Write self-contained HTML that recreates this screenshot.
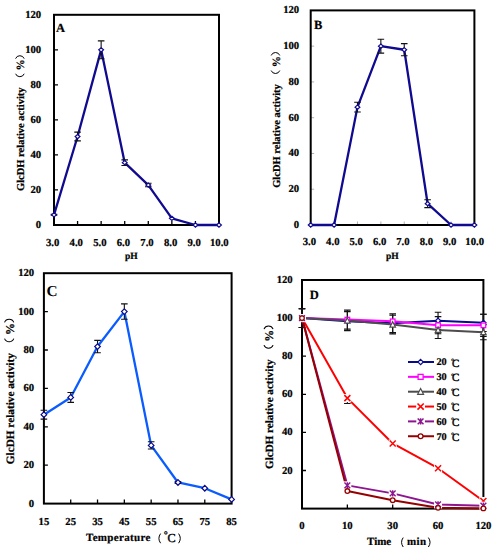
<!DOCTYPE html><html><head><meta charset="utf-8"><style>html,body{margin:0;padding:0;background:#fff;}svg{display:block}</style></head><body>
<svg width="496" height="550" viewBox="0 0 496 550" font-family="Liberation Serif" font-weight="bold" text-rendering="geometricPrecision">
<style>text{stroke:#000;stroke-width:0.22px;paint-order:stroke}</style>
<rect width="496" height="550" fill="#fff"/>
<path d="M54 189.97h4M54 154.93h4M54 119.9h4M54 84.87h4M54 49.83h4M77.57 225v-4M101.14 225v-4M124.71 225v-4M148.29 225v-4M171.86 225v-4M195.43 225v-4" stroke="#000" stroke-width="1.3" fill="none"/>
<rect x="54" y="14.8" width="165" height="210.2" fill="none" stroke="#000" stroke-width="2"/>
<text x="41.2" y="228" font-size="10.7" text-anchor="end" >0</text>
<text x="41.2" y="192.97" font-size="10.7" text-anchor="end" >20</text>
<text x="41.2" y="157.93" font-size="10.7" text-anchor="end" >40</text>
<text x="41.2" y="122.9" font-size="10.7" text-anchor="end" >60</text>
<text x="41.2" y="87.87" font-size="10.7" text-anchor="end" >80</text>
<text x="41.2" y="52.83" font-size="10.7" text-anchor="end" >100</text>
<text x="41.2" y="17.8" font-size="10.7" text-anchor="end" >120</text>
<text x="52.7" y="245.6" font-size="10.7" text-anchor="middle" >3.0</text>
<text x="76.27" y="245.6" font-size="10.7" text-anchor="middle" >4.0</text>
<text x="99.84" y="245.6" font-size="10.7" text-anchor="middle" >5.0</text>
<text x="123.41" y="245.6" font-size="10.7" text-anchor="middle" >6.0</text>
<text x="146.99" y="245.6" font-size="10.7" text-anchor="middle" >7.0</text>
<text x="170.56" y="245.6" font-size="10.7" text-anchor="middle" >8.0</text>
<text x="194.13" y="245.6" font-size="10.7" text-anchor="middle" >9.0</text>
<text x="219.3" y="245.6" font-size="10.7" text-anchor="middle" >10.0</text>
<text x="56" y="32" font-size="12.5" text-anchor="start" >A</text>
<polyline points="54,214.84 77.57,136.54 101.14,49.83 124.71,162.64 148.29,185.06 171.86,218.34 195.43,225 219,225" fill="none" stroke="#100a90" stroke-width="2.3" stroke-linejoin="round"/>
<path d="M54 214.4V215.28M50.7 214.4H57.3M50.7 215.28H57.3" stroke="#111" stroke-width="1.1" fill="none"/>
<path d="M77.57 132.16V140.92M74.27 132.16H80.87M74.27 140.92H80.87" stroke="#111" stroke-width="1.1" fill="none"/>
<path d="M101.14 40.9V58.77M97.84 40.9H104.44M97.84 58.77H104.44" stroke="#111" stroke-width="1.1" fill="none"/>
<path d="M124.71 159.84V165.44M121.41 159.84H128.01M121.41 165.44H128.01" stroke="#111" stroke-width="1.1" fill="none"/>
<path d="M148.29 183.31V186.81M144.99 183.31H151.59M144.99 186.81H151.59" stroke="#111" stroke-width="1.1" fill="none"/>
<path d="M54 212.74L56.4 214.84L54 216.94L51.6 214.84Z" fill="#fff" stroke="#100a90" stroke-width="1.2"/>
<path d="M77.57 134.44L79.97 136.54L77.57 138.64L75.17 136.54Z" fill="#fff" stroke="#100a90" stroke-width="1.2"/>
<path d="M101.14 47.73L103.54 49.83L101.14 51.93L98.74 49.83Z" fill="#fff" stroke="#100a90" stroke-width="1.2"/>
<path d="M124.71 160.54L127.11 162.64L124.71 164.74L122.31 162.64Z" fill="#fff" stroke="#100a90" stroke-width="1.2"/>
<path d="M148.29 182.96L150.69 185.06L148.29 187.16L145.89 185.06Z" fill="#fff" stroke="#100a90" stroke-width="1.2"/>
<path d="M171.86 216.24L174.26 218.34L171.86 220.44L169.46 218.34Z" fill="#fff" stroke="#100a90" stroke-width="1.2"/>
<path d="M195.43 222.9L197.83 225L195.43 227.1L193.03 225Z" fill="#fff" stroke="#100a90" stroke-width="1.2"/>
<path d="M219 222.9L221.4 225L219 227.1L216.6 225Z" fill="#fff" stroke="#100a90" stroke-width="1.2"/>
<text x="131.3" y="259.4" font-size="9.5" text-anchor="middle" >pH</text>
<g transform="translate(24.4 191) rotate(-90)">
<text x="0" y="0" font-size="10.5">GlcDH relative activity</text>
<path d="M117.23 -8.82A4.62 4.62 0 0 0 117.23 -0.21" fill="none" stroke="#000" stroke-width="1"/>
<text x="120.49" y="0" font-size="11.13">%</text>
<path d="M132.35 -8.82A4.62 4.62 0 0 1 132.35 -0.21" fill="none" stroke="#000" stroke-width="1"/>
</g>
<path d="M310.7 189.23h3.5M310.7 153.47h3.5M310.7 117.7h3.5M310.7 81.93h3.5M310.7 46.17h3.5M334.09 225v-3.5M357.47 225v-3.5M380.86 225v-3.5M404.24 225v-3.5M427.63 225v-3.5M451.01 225v-3.5" stroke="#a8a8a8" stroke-width="0.9" fill="none"/>
<rect x="310.7" y="10.4" width="163.7" height="214.6" fill="none" stroke="#000" stroke-width="2"/>
<text x="299.2" y="228" font-size="10.7" text-anchor="end" >0</text>
<text x="299.2" y="192.23" font-size="10.7" text-anchor="end" >20</text>
<text x="299.2" y="156.47" font-size="10.7" text-anchor="end" >40</text>
<text x="299.2" y="120.7" font-size="10.7" text-anchor="end" >60</text>
<text x="299.2" y="84.93" font-size="10.7" text-anchor="end" >80</text>
<text x="299.2" y="49.17" font-size="10.7" text-anchor="end" >100</text>
<text x="299.2" y="13.4" font-size="10.7" text-anchor="end" >120</text>
<text x="309.4" y="245.3" font-size="10.7" text-anchor="middle" >3.0</text>
<text x="332.79" y="245.3" font-size="10.7" text-anchor="middle" >4.0</text>
<text x="356.17" y="245.3" font-size="10.7" text-anchor="middle" >5.0</text>
<text x="379.56" y="245.3" font-size="10.7" text-anchor="middle" >6.0</text>
<text x="402.94" y="245.3" font-size="10.7" text-anchor="middle" >7.0</text>
<text x="426.33" y="245.3" font-size="10.7" text-anchor="middle" >8.0</text>
<text x="449.71" y="245.3" font-size="10.7" text-anchor="middle" >9.0</text>
<text x="474.7" y="245.3" font-size="10.7" text-anchor="middle" >10.0</text>
<text x="313.9" y="29" font-size="12.5" text-anchor="start" >B</text>
<polyline points="310.7,225 334.09,225 357.47,107.15 380.86,46.17 404.24,49.74 427.63,203.72 451.01,225 474.4,225" fill="none" stroke="#100a90" stroke-width="2.3" stroke-linejoin="round"/>
<path d="M357.47 102.32V111.98M354.17 102.32H360.77M354.17 111.98H360.77" stroke="#111" stroke-width="1.1" fill="none"/>
<path d="M380.86 39.19V53.14M377.56 39.19H384.16M377.56 53.14H384.16" stroke="#111" stroke-width="1.1" fill="none"/>
<path d="M404.24 43.66V55.82M400.94 43.66H407.54M400.94 55.82H407.54" stroke="#111" stroke-width="1.1" fill="none"/>
<path d="M427.63 199.78V207.65M424.33 199.78H430.93M424.33 207.65H430.93" stroke="#111" stroke-width="1.1" fill="none"/>
<path d="M310.7 222.9L313.1 225L310.7 227.1L308.3 225Z" fill="#fff" stroke="#100a90" stroke-width="1.2"/>
<path d="M334.09 222.9L336.49 225L334.09 227.1L331.69 225Z" fill="#fff" stroke="#100a90" stroke-width="1.2"/>
<path d="M357.47 105.05L359.87 107.15L357.47 109.25L355.07 107.15Z" fill="#fff" stroke="#100a90" stroke-width="1.2"/>
<path d="M380.86 44.07L383.26 46.17L380.86 48.27L378.46 46.17Z" fill="#fff" stroke="#100a90" stroke-width="1.2"/>
<path d="M404.24 47.64L406.64 49.74L404.24 51.84L401.84 49.74Z" fill="#fff" stroke="#100a90" stroke-width="1.2"/>
<path d="M427.63 201.62L430.03 203.72L427.63 205.82L425.23 203.72Z" fill="#fff" stroke="#100a90" stroke-width="1.2"/>
<path d="M451.01 222.9L453.41 225L451.01 227.1L448.61 225Z" fill="#fff" stroke="#100a90" stroke-width="1.2"/>
<path d="M474.4 222.9L476.8 225L474.4 227.1L472 225Z" fill="#fff" stroke="#100a90" stroke-width="1.2"/>
<text x="392.3" y="259.4" font-size="9.5" text-anchor="middle" >pH</text>
<g transform="translate(280 187.8) rotate(-90)">
<text x="0" y="0" font-size="10.5">GlcDH relative activity</text>
<path d="M117.23 -8.82A4.62 4.62 0 0 0 117.23 -0.21" fill="none" stroke="#000" stroke-width="1"/>
<text x="120.49" y="0" font-size="11.13">%</text>
<path d="M132.35 -8.82A4.62 4.62 0 0 1 132.35 -0.21" fill="none" stroke="#000" stroke-width="1"/>
</g>
<path d="M43.9 465.2h4M43.9 426.8h4M43.9 388.4h4M43.9 350h4M43.9 311.6h4M70.71 503.6v-4M97.53 503.6v-4M124.34 503.6v-4M151.16 503.6v-4M177.97 503.6v-4M204.79 503.6v-4" stroke="#000" stroke-width="1.3" fill="none"/>
<rect x="43.9" y="273.2" width="187.7" height="230.4" fill="none" stroke="#000" stroke-width="2"/>
<text x="34.2" y="506.6" font-size="10.7" text-anchor="end" >0</text>
<text x="34.2" y="468.2" font-size="10.7" text-anchor="end" >20</text>
<text x="34.2" y="429.8" font-size="10.7" text-anchor="end" >40</text>
<text x="34.2" y="391.4" font-size="10.7" text-anchor="end" >60</text>
<text x="34.2" y="353" font-size="10.7" text-anchor="end" >80</text>
<text x="34.2" y="314.6" font-size="10.7" text-anchor="end" >100</text>
<text x="34.2" y="276.2" font-size="10.7" text-anchor="end" >120</text>
<text x="43.9" y="525" font-size="10.7" text-anchor="middle" >15</text>
<text x="70.71" y="525" font-size="10.7" text-anchor="middle" >25</text>
<text x="97.53" y="525" font-size="10.7" text-anchor="middle" >35</text>
<text x="124.34" y="525" font-size="10.7" text-anchor="middle" >45</text>
<text x="151.16" y="525" font-size="10.7" text-anchor="middle" >55</text>
<text x="177.97" y="525" font-size="10.7" text-anchor="middle" >65</text>
<text x="204.79" y="525" font-size="10.7" text-anchor="middle" >75</text>
<text x="231.6" y="525" font-size="10.7" text-anchor="middle" >85</text>
<text x="46.6" y="295.9" font-size="15.3" text-anchor="start" style="stroke-width:0">C</text>
<polyline points="43.9,414.7 70.71,397.42 97.53,346.54 124.34,311.6 151.16,445.42 177.97,482.48 204.79,488.24 231.6,499.38" fill="none" stroke="#0a5cff" stroke-width="2.3" stroke-linejoin="round"/>
<path d="M43.9 410.29V419.12M40.6 410.29H47.2M40.6 419.12H47.2" stroke="#111" stroke-width="1.1" fill="none"/>
<path d="M70.71 392.43V402.42M67.41 392.43H74.01M67.41 402.42H74.01" stroke="#111" stroke-width="1.1" fill="none"/>
<path d="M97.53 340.4V352.69M94.23 340.4H100.83M94.23 352.69H100.83" stroke="#111" stroke-width="1.1" fill="none"/>
<path d="M124.34 303.92V319.28M121.04 303.92H127.64M121.04 319.28H127.64" stroke="#111" stroke-width="1.1" fill="none"/>
<path d="M151.16 441.78V449.07M147.86 441.78H154.46M147.86 449.07H154.46" stroke="#111" stroke-width="1.1" fill="none"/>
<path d="M177.97 481.52V483.44M174.67 481.52H181.27M174.67 483.44H181.27" stroke="#111" stroke-width="1.1" fill="none"/>
<path d="M43.9 411.9L46.7 414.7L43.9 417.5L41.1 414.7Z" fill="#fff" stroke="#0a0a8a" stroke-width="1.2"/>
<path d="M70.71 394.62L73.51 397.42L70.71 400.22L67.91 397.42Z" fill="#fff" stroke="#0a0a8a" stroke-width="1.2"/>
<path d="M97.53 343.74L100.33 346.54L97.53 349.34L94.73 346.54Z" fill="#fff" stroke="#0a0a8a" stroke-width="1.2"/>
<path d="M124.34 308.8L127.14 311.6L124.34 314.4L121.54 311.6Z" fill="#fff" stroke="#0a0a8a" stroke-width="1.2"/>
<path d="M151.16 442.62L153.96 445.42L151.16 448.22L148.36 445.42Z" fill="#fff" stroke="#0a0a8a" stroke-width="1.2"/>
<path d="M177.97 479.68L180.77 482.48L177.97 485.28L175.17 482.48Z" fill="#fff" stroke="#0a0a8a" stroke-width="1.2"/>
<path d="M204.79 485.44L207.59 488.24L204.79 491.04L201.99 488.24Z" fill="#fff" stroke="#0a0a8a" stroke-width="1.2"/>
<path d="M231.6 496.58L234.4 499.38L231.6 502.18L228.8 499.38Z" fill="#fff" stroke="#0a0a8a" stroke-width="1.2"/>
<text x="86" y="541" font-size="11" text-anchor="start" letter-spacing="0.33">Temperature</text>
<path d="M160.6 533.6Q157.2 538.4 160.6 543.2" fill="none" stroke="#000" stroke-width="1"/>
<path d="M178.6 533.6Q182 538.4 178.6 543.2" fill="none" stroke="#000" stroke-width="1"/>
<text x="163.8" y="538.4" font-size="10" text-anchor="start" >°</text>
<text x="167.6" y="541.9" font-size="12.2" text-anchor="start" font-weight="normal" style="stroke-width:0.4px">C</text>
<g transform="translate(14 464.2) rotate(-90)">
<text x="0" y="0" font-size="11.25">GlcDH relative activity</text>
<path d="M125.61 -9.45A4.95 4.95 0 0 0 125.61 -0.23" fill="none" stroke="#000" stroke-width="1.07"/>
<text x="129.09" y="0" font-size="11.93">%</text>
<path d="M141.81 -9.45A4.95 4.95 0 0 1 141.81 -0.23" fill="none" stroke="#000" stroke-width="1.07"/>
</g>
<path d="M302 470.5h4M302 432.4h4M302 394.3h4M302 356.2h4M302 318.1h4M347.35 508.6v-4M392.7 508.6v-4M438.05 508.6v-4" stroke="#000" stroke-width="1.3" fill="none"/>
<rect x="302" y="280" width="181.4" height="228.6" fill="none" stroke="#000" stroke-width="2"/>
<text x="292.7" y="473.5" font-size="10.7" text-anchor="end" >20</text>
<text x="292.7" y="435.4" font-size="10.7" text-anchor="end" >40</text>
<text x="292.7" y="397.3" font-size="10.7" text-anchor="end" >60</text>
<text x="292.7" y="359.2" font-size="10.7" text-anchor="end" >80</text>
<text x="292.7" y="321.1" font-size="10.7" text-anchor="end" >100</text>
<text x="292.7" y="283" font-size="10.7" text-anchor="end" >120</text>
<text x="302" y="529.4" font-size="10.7" text-anchor="middle" >0</text>
<text x="347.35" y="529.4" font-size="10.7" text-anchor="middle" >10</text>
<text x="392.7" y="529.4" font-size="10.7" text-anchor="middle" >30</text>
<text x="438.05" y="529.4" font-size="10.7" text-anchor="middle" >60</text>
<text x="483.4" y="529.4" font-size="10.7" text-anchor="middle" >120</text>
<text x="309.8" y="299" font-size="12.5" text-anchor="start" >D</text>
<path d="M302 308.77V327.43M298.7 308.77H305.3M298.7 327.43H305.3" stroke="#111" stroke-width="1.1" fill="none"/>
<path d="M347.35 311.62V330.67M344.05 311.62H350.65M344.05 330.67H350.65" stroke="#111" stroke-width="1.1" fill="none"/>
<path d="M392.7 313.91V332.58M389.4 313.91H396M389.4 332.58H396" stroke="#111" stroke-width="1.1" fill="none"/>
<path d="M438.05 312.19V329.34M434.75 312.19H441.35M434.75 329.34H441.35" stroke="#111" stroke-width="1.1" fill="none"/>
<path d="M483.4 314.29V331.44M480.1 314.29H486.7M480.1 331.44H486.7" stroke="#111" stroke-width="1.1" fill="none"/>
<path d="M302 308.77V327.43M298.7 308.77H305.3M298.7 327.43H305.3" stroke="#111" stroke-width="1.1" fill="none"/>
<path d="M347.35 310.1V329.15M344.05 310.1H350.65M344.05 329.15H350.65" stroke="#111" stroke-width="1.1" fill="none"/>
<path d="M438.05 316.58V333.72M434.75 316.58H441.35M434.75 333.72H441.35" stroke="#111" stroke-width="1.1" fill="none"/>
<path d="M483.4 314.29V336.39M480.1 314.29H486.7M480.1 336.39H486.7" stroke="#111" stroke-width="1.1" fill="none"/>
<path d="M302 308.77V327.43M298.7 308.77H305.3M298.7 327.43H305.3" stroke="#111" stroke-width="1.1" fill="none"/>
<path d="M392.7 315.24V333.91M389.4 315.24H396M389.4 333.91H396" stroke="#111" stroke-width="1.1" fill="none"/>
<path d="M438.05 321.34V338.48M434.75 321.34H441.35M434.75 338.48H441.35" stroke="#111" stroke-width="1.1" fill="none"/>
<path d="M483.4 324.58V339.82M480.1 324.58H486.7M480.1 339.82H486.7" stroke="#111" stroke-width="1.1" fill="none"/>
<path d="M347.35 398.11V403.44M344.05 403.44H350.65" stroke="#111" stroke-width="1.1" fill="none"/>
<polyline points="302,318.1 347.35,321.15 392.7,323.24 438.05,320.77 483.4,322.86" fill="none" stroke="#0a0a8c" stroke-width="2" stroke-linejoin="round"/>
<polyline points="302,318.1 347.35,319.62 392.7,321.34 438.05,325.15 483.4,325.34" fill="none" stroke="#ff00ff" stroke-width="2" stroke-linejoin="round"/>
<polyline points="302,318.1 347.35,320.58 392.7,324.58 438.05,329.91 483.4,332.2" fill="none" stroke="#4d4d4d" stroke-width="2" stroke-linejoin="round"/>
<polyline points="302,318.1 347.35,398.11 392.7,443.45 438.05,468.21 483.4,500.98" fill="none" stroke="#ff0000" stroke-width="2" stroke-linejoin="round"/>
<polyline points="302,318.1 347.35,485.36 392.7,493.36 438.05,504.41 483.4,505.74" fill="none" stroke="#8e1590" stroke-width="2" stroke-linejoin="round"/>
<polyline points="302,318.1 347.35,491.07 392.7,500.22 438.05,507.84 483.4,508.41" fill="none" stroke="#960000" stroke-width="2" stroke-linejoin="round"/>
<path d="M302 315.5L304.6 318.1L302 320.7L299.4 318.1Z" fill="#fff" stroke="#0a0a8c" stroke-width="1.2"/>
<path d="M347.35 318.55L349.95 321.15L347.35 323.75L344.75 321.15Z" fill="#fff" stroke="#0a0a8c" stroke-width="1.2"/>
<path d="M392.7 320.64L395.3 323.24L392.7 325.84L390.1 323.24Z" fill="#fff" stroke="#0a0a8c" stroke-width="1.2"/>
<path d="M438.05 318.17L440.65 320.77L438.05 323.37L435.45 320.77Z" fill="#fff" stroke="#0a0a8c" stroke-width="1.2"/>
<path d="M483.4 320.26L486 322.86L483.4 325.46L480.8 322.86Z" fill="#fff" stroke="#0a0a8c" stroke-width="1.2"/>
<rect x="299.7" y="315.8" width="4.6" height="4.6" fill="#fff" stroke="#ff00ff" stroke-width="1.3"/>
<rect x="345.05" y="317.32" width="4.6" height="4.6" fill="#fff" stroke="#ff00ff" stroke-width="1.3"/>
<rect x="390.4" y="319.04" width="4.6" height="4.6" fill="#fff" stroke="#ff00ff" stroke-width="1.3"/>
<rect x="435.75" y="322.85" width="4.6" height="4.6" fill="#fff" stroke="#ff00ff" stroke-width="1.3"/>
<rect x="481.1" y="323.04" width="4.6" height="4.6" fill="#fff" stroke="#ff00ff" stroke-width="1.3"/>
<path d="M302 315.2L304.75 320.56L299.25 320.56Z" fill="#fff" stroke="#4d4d4d" stroke-width="1.2"/>
<path d="M347.35 317.68L350.11 323.04L344.6 323.04Z" fill="#fff" stroke="#4d4d4d" stroke-width="1.2"/>
<path d="M392.7 321.68L395.45 327.04L389.94 327.04Z" fill="#fff" stroke="#4d4d4d" stroke-width="1.2"/>
<path d="M438.05 327.01L440.8 332.38L435.29 332.38Z" fill="#fff" stroke="#4d4d4d" stroke-width="1.2"/>
<path d="M483.4 329.3L486.15 334.66L480.64 334.66Z" fill="#fff" stroke="#4d4d4d" stroke-width="1.2"/>
<rect x="298" y="314.1" width="8" height="8" fill="#fff"/>
<path d="M299 315.1L305 321.1M305 315.1L299 321.1" stroke="#ff0000" stroke-width="1.5" fill="none"/>
<rect x="343.35" y="394.11" width="8" height="8" fill="#fff"/>
<path d="M344.35 395.11L350.35 401.11M350.35 395.11L344.35 401.11" stroke="#ff0000" stroke-width="1.5" fill="none"/>
<rect x="388.7" y="439.45" width="8" height="8" fill="#fff"/>
<path d="M389.7 440.45L395.7 446.45M395.7 440.45L389.7 446.45" stroke="#ff0000" stroke-width="1.5" fill="none"/>
<rect x="434.05" y="464.21" width="8" height="8" fill="#fff"/>
<path d="M435.05 465.21L441.05 471.21M441.05 465.21L435.05 471.21" stroke="#ff0000" stroke-width="1.5" fill="none"/>
<rect x="479.4" y="496.98" width="8" height="8" fill="#fff"/>
<path d="M480.4 497.98L486.4 503.98M486.4 497.98L480.4 503.98" stroke="#ff0000" stroke-width="1.5" fill="none"/>
<rect x="298" y="314.1" width="8" height="8" fill="#fff"/>
<path d="M299.1 315.2L304.9 321M304.9 315.2L299.1 321M302 314.9V321.3" stroke="#8e1590" stroke-width="1.4" fill="none"/>
<rect x="343.35" y="481.36" width="8" height="8" fill="#fff"/>
<path d="M344.45 482.46L350.25 488.26M350.25 482.46L344.45 488.26M347.35 482.16V488.56" stroke="#8e1590" stroke-width="1.4" fill="none"/>
<rect x="388.7" y="489.36" width="8" height="8" fill="#fff"/>
<path d="M389.8 490.46L395.6 496.26M395.6 490.46L389.8 496.26M392.7 490.16V496.56" stroke="#8e1590" stroke-width="1.4" fill="none"/>
<rect x="434.05" y="500.41" width="8" height="8" fill="#fff"/>
<path d="M435.15 501.51L440.95 507.31M440.95 501.51L435.15 507.31M438.05 501.21V507.61" stroke="#8e1590" stroke-width="1.4" fill="none"/>
<rect x="479.4" y="501.74" width="8" height="8" fill="#fff"/>
<path d="M480.5 502.84L486.3 508.64M486.3 502.84L480.5 508.64M483.4 502.54V508.94" stroke="#8e1590" stroke-width="1.4" fill="none"/>
<circle cx="302" cy="318.1" r="2.3" fill="#fff" stroke="#960000" stroke-width="1.3"/>
<circle cx="347.35" cy="491.07" r="2.3" fill="#fff" stroke="#960000" stroke-width="1.3"/>
<circle cx="392.7" cy="500.22" r="2.3" fill="#fff" stroke="#960000" stroke-width="1.3"/>
<circle cx="438.05" cy="507.84" r="2.3" fill="#fff" stroke="#960000" stroke-width="1.3"/>
<circle cx="483.4" cy="508.41" r="2.3" fill="#fff" stroke="#960000" stroke-width="1.3"/>
<path d="M408 362H434" stroke="#0a0a8c" stroke-width="2"/>
<path d="M420.6 359.4L423.3 362L420.6 364.6L417.9 362Z" fill="#fff" stroke="#0a0a8c" stroke-width="1.2"/>
<text x="436.4" y="365.3" font-size="10.3" text-anchor="start" >20</text>
<text x="450.9" y="363.9" font-size="8" text-anchor="start" >°</text>
<text x="452" y="366.5" font-size="11" text-anchor="start" font-weight="normal" style="stroke-width:0.4px">C</text>
<path d="M408 376.85H434" stroke="#ff00ff" stroke-width="2"/>
<rect x="418.1" y="374.35" width="5" height="5" fill="#fff" stroke="#ff00ff" stroke-width="1.3"/>
<text x="436.4" y="380.15" font-size="10.3" text-anchor="start" >30</text>
<text x="450.9" y="378.75" font-size="8" text-anchor="start" >°</text>
<text x="452" y="381.35" font-size="11" text-anchor="start" font-weight="normal" style="stroke-width:0.4px">C</text>
<path d="M408 391.7H434" stroke="#4d4d4d" stroke-width="2"/>
<path d="M420.6 388.6L423.55 394.33L417.66 394.33Z" fill="#fff" stroke="#4d4d4d" stroke-width="1.2"/>
<text x="436.4" y="395" font-size="10.3" text-anchor="start" >40</text>
<text x="450.9" y="393.6" font-size="8" text-anchor="start" >°</text>
<text x="452" y="396.2" font-size="11" text-anchor="start" font-weight="normal" style="stroke-width:0.4px">C</text>
<path d="M408 406.55H434" stroke="#ff0000" stroke-width="2"/>
<rect x="416.2" y="402.15" width="8.8" height="8.8" fill="#fff"/>
<path d="M417.5 403.45L423.7 409.65M423.7 403.45L417.5 409.65" stroke="#ff0000" stroke-width="1.6" fill="none"/>
<text x="436.4" y="409.85" font-size="10.3" text-anchor="start" >50</text>
<text x="450.9" y="408.45" font-size="8" text-anchor="start" >°</text>
<text x="452" y="411.05" font-size="11" text-anchor="start" font-weight="normal" style="stroke-width:0.4px">C</text>
<path d="M408 421.4H434" stroke="#8e1590" stroke-width="2"/>
<rect x="416.3" y="417.1" width="8.6" height="8.6" fill="#fff"/>
<path d="M417.7 418.5L423.5 424.3M423.5 418.5L417.7 424.3M420.6 418.2V424.6" stroke="#8e1590" stroke-width="1.5" fill="none"/>
<text x="436.4" y="424.7" font-size="10.3" text-anchor="start" >60</text>
<text x="450.9" y="423.3" font-size="8" text-anchor="start" >°</text>
<text x="452" y="425.9" font-size="11" text-anchor="start" font-weight="normal" style="stroke-width:0.4px">C</text>
<path d="M408 436.25H434" stroke="#960000" stroke-width="2"/>
<circle cx="420.6" cy="436.25" r="2.4" fill="#fff" stroke="#960000" stroke-width="1.3"/>
<text x="436.4" y="439.55" font-size="10.3" text-anchor="start" >70</text>
<text x="450.9" y="438.15" font-size="8" text-anchor="start" >°</text>
<text x="452" y="440.75" font-size="11" text-anchor="start" font-weight="normal" style="stroke-width:0.4px">C</text>
<text x="367" y="545" font-size="11" text-anchor="start" >Time</text>
<path d="M403.2 537.6Q399.9 542.3 403.2 547" fill="none" stroke="#000" stroke-width="1"/>
<path d="M428.4 537.6Q431.7 542.3 428.4 547" fill="none" stroke="#000" stroke-width="1"/>
<text x="407" y="545" font-size="11" text-anchor="start" letter-spacing="0.4">min</text>
<g transform="translate(273.3 469) rotate(-90)">
<text x="0" y="0" font-size="11.1">GlcDH relative activity</text>
<path d="M123.93 -9.32A4.89 4.89 0 0 0 123.93 -0.22" fill="none" stroke="#000" stroke-width="1.05"/>
<text x="127.37" y="0" font-size="11.77">%</text>
<path d="M139.92 -9.32A4.89 4.89 0 0 1 139.92 -0.22" fill="none" stroke="#000" stroke-width="1.05"/>
</g>
</svg></body></html>
